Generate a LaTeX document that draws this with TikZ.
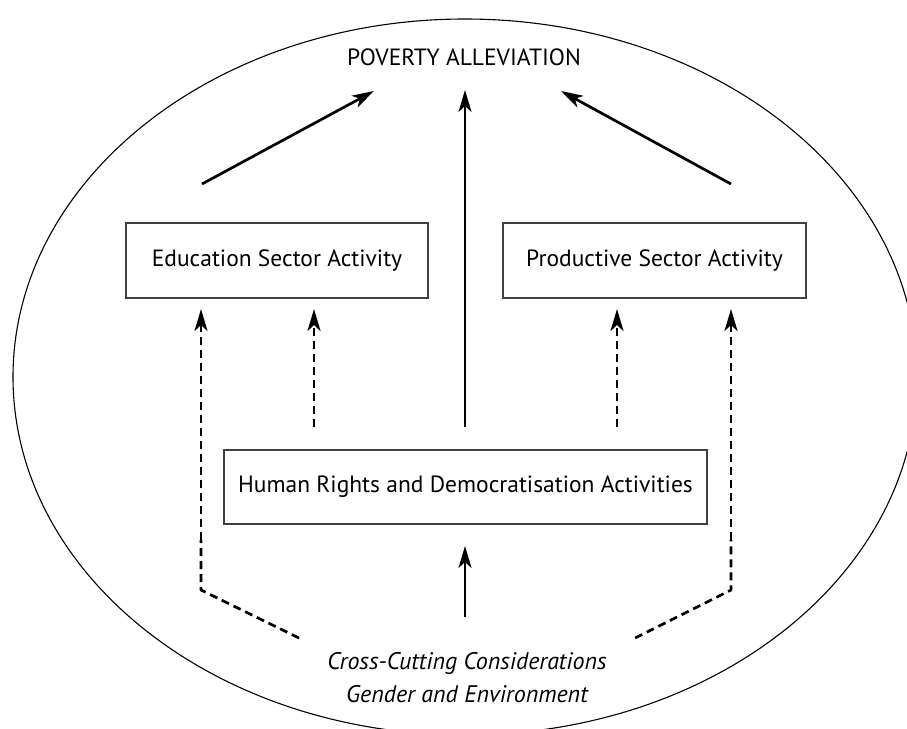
\documentclass[tikz,border=0pt]{standalone}
\usepackage{fontspec}
\setmainfont{PT Sans}
\usetikzlibrary{arrows.meta}
\begin{document}
\begin{tikzpicture}[x=1pt,y=-1pt,
  box/.style={draw=black!75,line width=1.1pt,minimum width=#1,minimum height=75pt,inner sep=0pt,font=\fontsize{23.5}{28}\selectfont},
  label/.style={inner sep=0pt,font=\fontsize{23.5}{28}\selectfont},
  solid arrow/.style={line width=2.2pt,-{Stealth[length=22pt,width=13pt,inset=6pt]}},
  dash arrow/.style={line width=2.7pt,dash pattern=on 8pt off 5pt,-{Stealth[length=22pt,width=13pt,inset=6pt]}},
  dash line/.style={line width=2.7pt,dash pattern=on 8pt off 5pt,line join=round}]
\useasboundingbox (0,0) rectangle (907,728);
\begin{scope}
\clip (0,0) rectangle (907,728);
\draw[line width=1.1pt] (465,377) ellipse [x radius=452, y radius=358];
\end{scope}
% nodes
\node[label,font=\fontsize{23.5}{28}\selectfont] (pov) at (464,57) {POVERTY ALLEVIATION};
\node[box=302pt] (edu) at (277,260.5) {Education Sector Activity};
\node[box=303pt] (prod) at (654.5,260.5) {Productive Sector Activity};
\node[box=483pt,minimum height=74pt] (hr) at (465.5,487) {Human Rights and Democratisation Activities};
\node[label,font=\fontsize{24}{28}\selectfont\itshape,align=center] (cross) at (467,677.5) {Cross-Cutting Considerations\\[5pt]Gender and Environment};
% coordinates
\coordinate (a1s) at (202,184); \coordinate (a1e) at (374,91);
\coordinate (a2s) at (731,184); \coordinate (a2e) at (561,91);
\coordinate (cs) at (465,427); \coordinate (ce) at (465,90);
\coordinate (bs) at (465,617); \coordinate (be) at (465,546);
\coordinate (d1s) at (314,427); \coordinate (d1e) at (314,309);
\coordinate (d2s) at (617,427); \coordinate (d2e) at (617,309);
\coordinate (l0) at (299,638); \coordinate (l1) at (201,590); \coordinate (l2) at (201,309);
\coordinate (r0) at (635,638); \coordinate (r1) at (731,590); \coordinate (r2) at (731,309);
% arrows
\draw[solid arrow,line width=2.7pt] (a1s) -- (a1e);
\draw[solid arrow,line width=2.7pt] (a2s) -- (a2e);
\draw[solid arrow] (cs) -- (ce);
\draw[solid arrow] (bs) -- (be);
\draw[dash arrow] (d1s) -- (d1e);
\draw[dash arrow] (d2s) -- (d2e);
\draw[dash line] (l0) -- (l1) -- (201,540);
\draw[dash arrow] (201,540) -- (l2);
\draw[dash line] (r0) -- (r1) -- (731,540);
\draw[dash arrow] (731,540) -- (r2);
\end{tikzpicture}
\end{document}
